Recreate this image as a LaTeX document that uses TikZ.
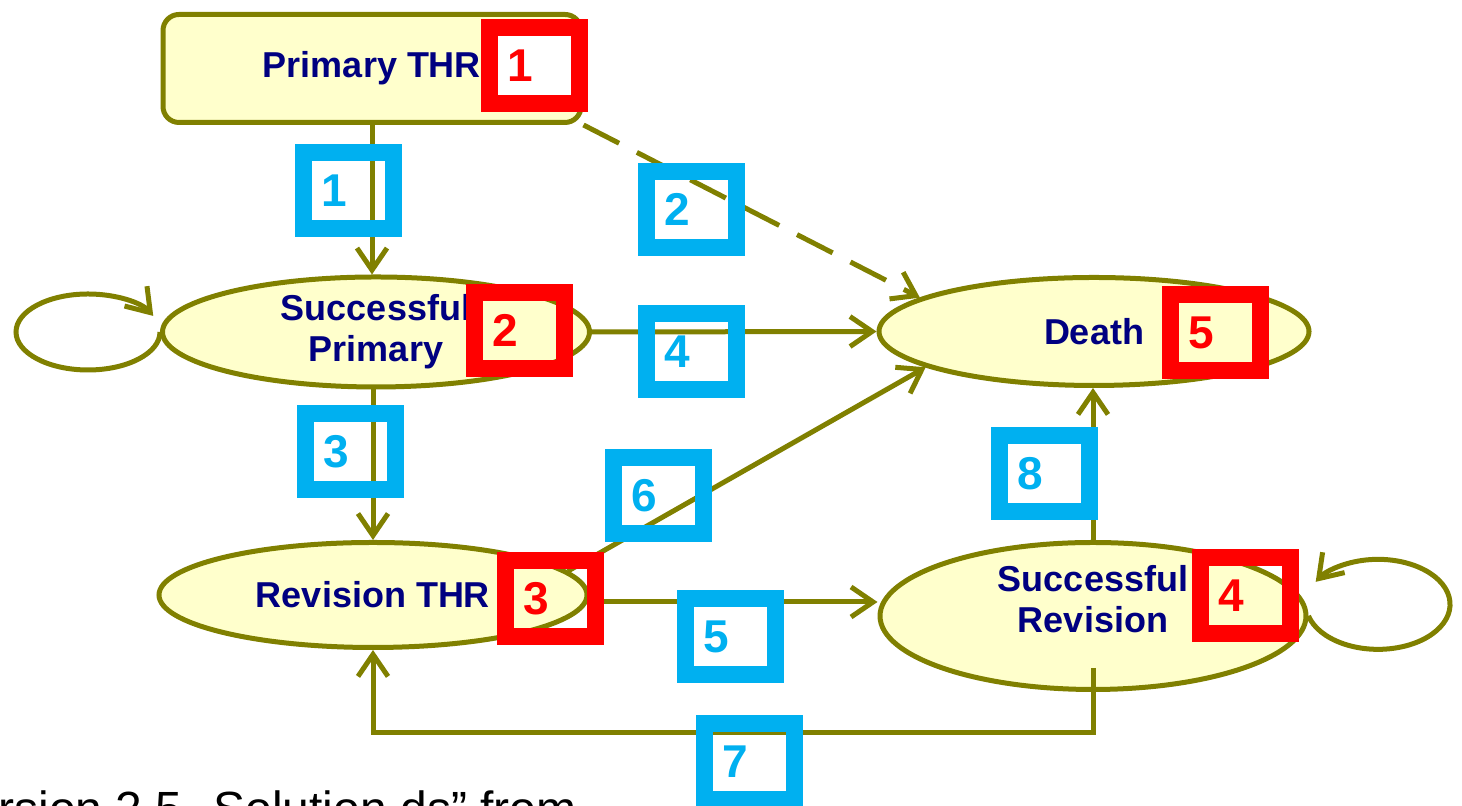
\documentclass[tikz,border=0pt]{standalone}
\usepackage{fontspec}
\setmainfont{Liberation Sans}
\usetikzlibrary{arrows.meta,shapes.geometric}
\definecolor{link}{HTML}{808000}
\definecolor{cream}{HTML}{FFFFCC}
\definecolor{navy}{HTML}{000080}
\definecolor{tagred}{HTML}{FF0000}
\definecolor{tagblue}{HTML}{00B0F0}

\begin{document}
\begin{tikzpicture}[x=0.5pt,y=0.5pt,
  statetext/.style={align=center,font=\bfseries\fontsize{18}{20.5}\selectfont,text=navy},
  state/.style={ellipse,draw=link,line width=2.5pt,fill=cream,inner sep=0pt,statetext},
  entry/.style={rectangle,rounded corners=8pt,draw=link,line width=2.5pt,fill=cream,statetext},
  tag/.style={draw,line width=8.5pt,minimum width=45pt,minimum height=38pt,inner xsep=9pt,
    text width=27pt,align=left,font=\bfseries\fontsize{23}{23}\selectfont},
  redtag/.style={tag,draw=tagred,text=tagred},
  bluetag/.style={tag,draw=tagblue,text=tagblue},
  arr/.style={-{Straight Barb[length=11pt,width=15pt]},line width=2.5pt,draw=link}]
\clip (0,0) rectangle (1462,806);
% states
\node[entry,minimum width=209pt,minimum height=54pt] (ptr) at (372,737.5) {Primary THR};
\node[state,minimum width=213.5pt,minimum height=55pt] (sp) at (376,474) {Successful\\Primary};
\node[state,minimum width=215pt,minimum height=54pt] (death) at (1094,474.5) {Death};
\node[state,minimum width=214pt,minimum height=52.5pt] (rt) at (373,211) {Revision THR};
\node[state,minimum width=213pt,minimum height=73.5pt,
  label={[statetext,yshift=8.5pt]center:Successful\\Revision}] (sr) at (1093,190) {};
\coordinate (bend) at (373,73);
% transitions
\draw[arr] (sp.west) arc[start angle=0,end angle=-335,x radius=72,y radius=38];
\draw[arr] (sr.east) arc[start angle=195,end angle=510,x radius=72,y radius=45];
\draw[arr] (ptr.south) -- (ptr.south |- sp.north);
\draw[arr,dash pattern=on 20pt off 10pt] (ptr.south east) -- (death.169);
\draw[arr] (sp.east) -- (death.west);
\draw[arr] (rt.north |- sp.south) -- (rt.north);
\draw[arr] (rt.7) -- (death.192);
\draw[arr] ([yshift=-3.5pt]rt.east) -- ([yshift=-3.5pt]rt.east -| sr.west);
\draw[arr] (sr.north) -- (sr.north |- death.south);
\draw[arr] ([yshift=12pt]sr.south) |- (bend) -- (rt.south);
% state numbers
\node[redtag,fill=white] (r1) at (534.5,740) {1};
\node[redtag] (r2) at (519.5,475.5) {2};
\node[redtag] (r3) at (550,207) {3};
\node[redtag] (r4) at (1245,210.5) {4};
\node[redtag] (r5) at (1215.5,473.5) {5};
% transition numbers
\node[bluetag] (b1) at (348.5,615) {1};
\node[bluetag] (b2) at (691.5,596.5) {2};
\node[bluetag] (b3) at (350.5,354) {3};
\node[bluetag] (b4) at (691.5,454.5) {4};
\node[bluetag] (b5) at (730.5,169.5) {5};
\node[bluetag] (b6) at (658.5,310.5) {6};
\node[bluetag] (b7) at (749.5,44.5) {7};
\node[bluetag] (b8) at (1044,332.5) {8};
\node[anchor=base west,inner sep=0pt,font=\fontsize{24}{24}\selectfont] (caption)
  at (-2,-20) {rsion 2.5. Solution ds” from};
\end{tikzpicture}
\end{document}
